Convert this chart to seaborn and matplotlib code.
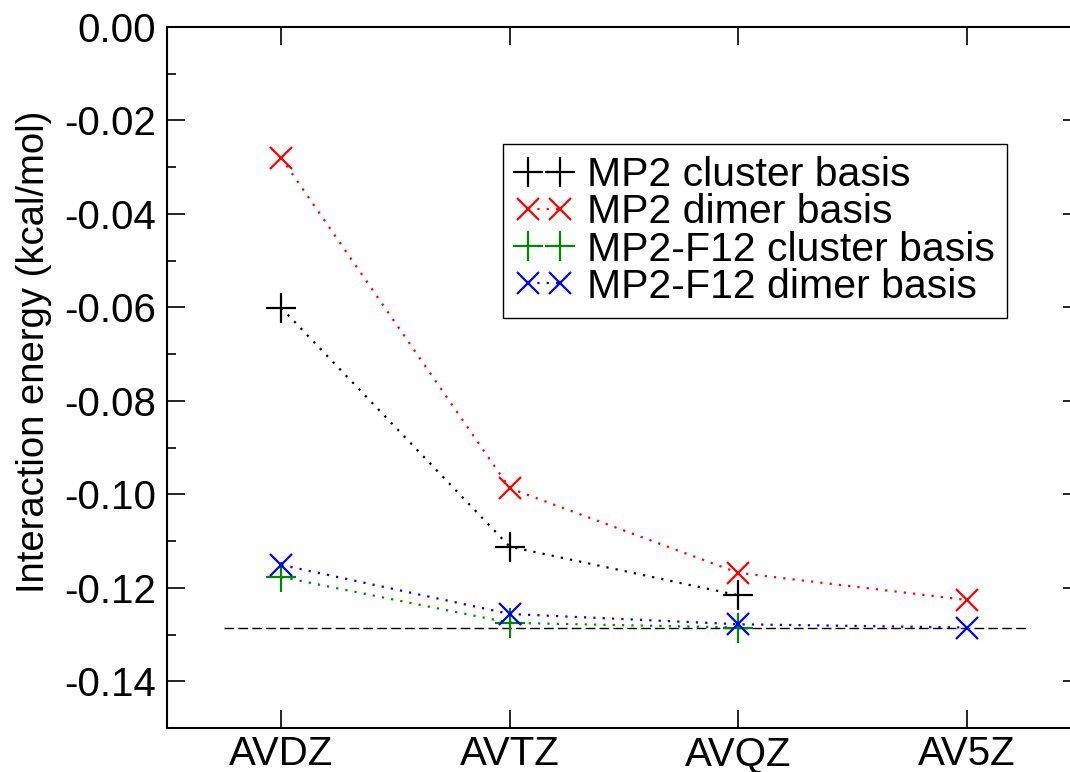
import numpy as np
import pandas as pd
import matplotlib
matplotlib.use("Agg")
import matplotlib.pyplot as plt
import seaborn as sns

# ---- data ----
basis_sets = ["AVDZ", "AVTZ", "AVQZ", "AV5Z"]
mp2_cluster = [-0.0601, -0.1112, -0.1216, np.nan]
mp2_dimer = [-0.0280, -0.0987, -0.1168, -0.1226]
f12_cluster = [-0.1177, -0.1275, -0.1285, np.nan]
f12_dimer = [-0.1151, -0.1256, -0.1278, -0.1285]
reference_value = -0.1287
series_names = ["MP2 cluster basis", "MP2 dimer basis",
                "MP2-F12 cluster basis", "MP2-F12 dimer basis"]
y_ticks = [0.00, -0.02, -0.04, -0.06, -0.08, -0.10, -0.12, -0.14]
y_tick_labels = ["0.00", "-0.02", "-0.04", "-0.06", "-0.08", "-0.10", "-0.12", "-0.14"]

sns.set_theme(style="white")
plt.rcParams["font.family"] = ["Liberation Sans", "DejaVu Sans"]
plt.rcParams["text.color"] = "black"
plt.rcParams["axes.labelcolor"] = "black"
plt.rcParams["xtick.color"] = "black"
plt.rcParams["ytick.color"] = "black"

rows = []
for name, vals in zip(series_names, [mp2_cluster, mp2_dimer, f12_cluster, f12_dimer]):
    for i, (b, v) in enumerate(zip(basis_sets, vals)):
        rows.append({"series": name, "basis": b, "pos": i, "energy": v})
df = pd.DataFrame(rows).dropna()

fig = plt.figure(figsize=(10.70, 7.72), dpi=100)
ax = fig.add_axes([167 / 1070, 1 - 728 / 772, (1081 - 167) / 1070, (728 - 27) / 772])

styles = {
    "MP2 cluster basis": dict(color="black", marker="+", ms=22),
    "MP2 dimer basis": dict(color="red", marker="x", ms=16),
    "MP2-F12 cluster basis": dict(color="#008800", marker="+", ms=22),
    "MP2-F12 dimer basis": dict(color="blue", marker="x", ms=16),
}

for name in series_names:
    st = styles[name]
    sub = df[df["series"] == name]
    sns.lineplot(data=sub, x="pos", y="energy", ax=ax, color=st["color"],
                 marker=st["marker"], markersize=st["ms"], markeredgewidth=1.6,
                 markeredgecolor=st["color"], linewidth=1.6,
                 linestyle=(0, (1, 3.2)), label=name, sort=False,
                 errorbar=None)

ax.plot([-0.25, 3.26], [reference_value, reference_value], color="black",
        linewidth=1.0, linestyle=(0, (7, 3)), zorder=1)

ax.set_xlim(-0.5, 3.5)
ax.set_ylim(-0.15, 0.0)
ax.set_xticks(range(len(basis_sets)))
ax.set_xticklabels(basis_sets)
ax.set_yticks(y_ticks)
ax.set_yticklabels(y_tick_labels)
ax.set_yticks(np.arange(-0.15, 0.0001, 0.01), minor=True)
ax.set_xlabel("")
ax.set_ylabel("Interaction energy (kcal/mol)", fontsize=27.5)
ax.yaxis.set_label_coords((52 - 167) / 914, 0.536)

for sp in ax.spines.values():
    sp.set_color("black")
    sp.set_linewidth(1.5)

ax.tick_params(axis="both", which="major", direction="in", length=13, width=1.2,
               labelsize=29, color="black", labelcolor="black",
               top=True, right=True, bottom=True, left=True, pad=8)
ax.tick_params(axis="x", which="major", pad=5)
ax.tick_params(axis="y", which="minor", direction="in", length=6.5, width=1.2,
               color="black", left=True, right=True)
ax.tick_params(axis="x", which="minor", bottom=False, top=False)

leg = ax.legend(loc="upper left", bbox_to_anchor=(503 / 1070, 1 - 144 / 772),
                bbox_transform=fig.transFigure, borderaxespad=0, fontsize=29.5,
                numpoints=2, handlelength=1.38, handletextpad=0.37,
                borderpad=0.3, labelspacing=-0.02, fancybox=False, framealpha=1,
                edgecolor="black", frameon=True)
leg.get_frame().set_linewidth(1.0)
for t in leg.get_texts():
    t.set_color("black")

fig.savefig("out.png", dpi=100)
